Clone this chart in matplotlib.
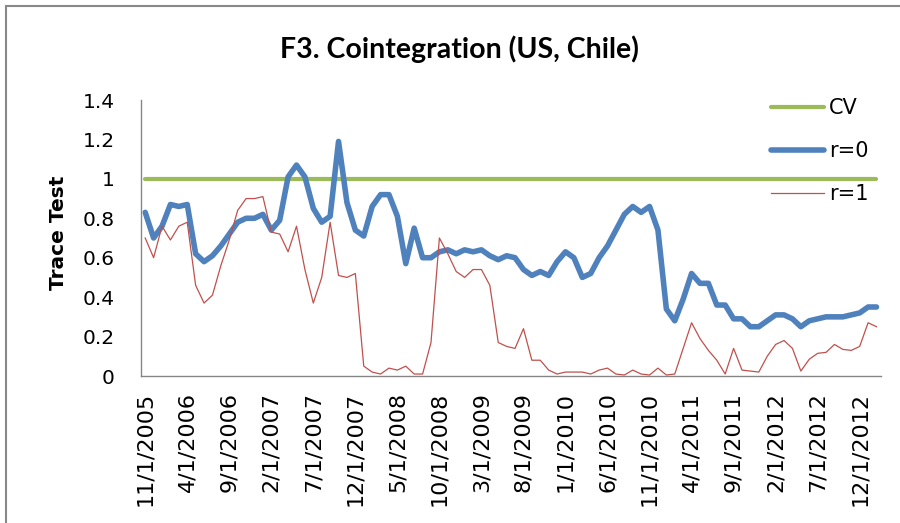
import matplotlib
matplotlib.use('Agg')
import matplotlib.pyplot as plt
import numpy as np
import pandas as pd
from matplotlib.patches import Rectangle

# monthly categories, 11/2005 .. 2/2013
dates = pd.date_range('2005-11-01', periods=88, freq='MS')
date_labels = [f'{d.month}/{d.day}/{d.year}' for d in dates]

cv = [1.0] * 88

r0 = [0.83, 0.70, 0.76, 0.87, 0.86, 0.87, 0.62, 0.58, 0.61, 0.66,
      0.72, 0.78, 0.80, 0.80, 0.82, 0.74, 0.79, 1.01, 1.07, 1.01,
      0.85, 0.78, 0.81, 1.19, 0.88, 0.74, 0.71, 0.86, 0.92, 0.92,
      0.81, 0.57, 0.75, 0.60, 0.60, 0.63, 0.64, 0.62, 0.64, 0.63,
      0.64, 0.61, 0.59, 0.61, 0.60, 0.54, 0.51, 0.53, 0.51, 0.58,
      0.63, 0.60, 0.50, 0.52, 0.60, 0.66, 0.74, 0.82, 0.86, 0.83,
      0.86, 0.74, 0.34, 0.28, 0.39, 0.52, 0.47, 0.47, 0.36, 0.36,
      0.29, 0.29, 0.25, 0.25, 0.28, 0.31, 0.31, 0.29, 0.25, 0.28,
      0.29, 0.30, 0.30, 0.30, 0.31, 0.32, 0.35, 0.35]

r1 = [0.70, 0.60, 0.76, 0.69, 0.76, 0.78, 0.46, 0.37, 0.41, 0.56,
      0.69, 0.84, 0.90, 0.90, 0.91, 0.73, 0.72, 0.63, 0.76, 0.54,
      0.37, 0.50, 0.78, 0.51, 0.50, 0.52, 0.05, 0.02, 0.01, 0.04,
      0.03, 0.05, 0.01, 0.01, 0.17, 0.70, 0.62, 0.53, 0.50, 0.54,
      0.54, 0.46, 0.17, 0.15, 0.14, 0.24, 0.08, 0.08, 0.03, 0.01,
      0.02, 0.02, 0.02, 0.01, 0.03, 0.04, 0.01, 0.005, 0.03, 0.01,
      0.005, 0.04, 0.005, 0.01, 0.14, 0.27, 0.19, 0.13, 0.08, 0.01,
      0.14, 0.03, 0.025, 0.02, 0.10, 0.16, 0.18, 0.14, 0.025, 0.085,
      0.115, 0.12, 0.16, 0.135, 0.13, 0.15, 0.27, 0.25]

fig = plt.figure(figsize=(9, 5.23), dpi=100)
ax = fig.add_axes([141 / 900, 147 / 523, 739.7 / 900, 276 / 523])

x = np.arange(len(dates))
ax.plot(x, cv, color='#9BBB59', lw=3, solid_capstyle='round', label='CV')
ax.plot(x, r0, color='#4F81BD', lw=4, solid_capstyle='round',
        solid_joinstyle='round', label='r=0')
ax.plot(x, r1, color='#C0504D', lw=0.9, label='r=1')

ax.set_xlim(-0.5, len(x) - 0.5)
ax.set_ylim(0, 1.4)
yt = np.round(np.arange(0, 1.41, 0.2), 1)
ax.set_yticks(yt)
ax.set_yticklabels([f'{v:g}' for v in yt], fontsize=14.5)
ax.set_xticks(x[::5])
ax.set_xticklabels(date_labels[::5], rotation=90, fontsize=16)
ax.tick_params(axis='y', length=0, pad=19)
ax.tick_params(axis='x', length=0, pad=11.5)

for s in ['top', 'right']:
    ax.spines[s].set_visible(False)
for s in ['left', 'bottom']:
    ax.spines[s].set_color('#868686')
    ax.spines[s].set_linewidth(1)

fig.text(459.5 / 900, 1 - 49 / 523, 'F3. Cointegration (US, Chile)',
         family='Lato', weight='bold', fontsize=20.5, ha='center', va='center')
fig.text(58.5 / 900, 1 - 233 / 523, 'Trace Test', fontsize=14.5,
         weight='bold', rotation=90, ha='center', va='center')

ax.legend(loc='upper left', bbox_to_anchor=(771 / 900, 1 - 98 / 523),
          bbox_transform=fig.transFigure, frameon=False, fontsize=15,
          handlelength=2.55, handletextpad=0.25, labelspacing=1.1,
          borderpad=0, borderaxespad=0)

fig.patches.append(Rectangle((6 / 900, -0.1), 1.2, 1.1 - 6 / 523,
                             transform=fig.transFigure, fill=False,
                             edgecolor='#898989', lw=1.5))

fig.savefig('out.png', dpi=100)
